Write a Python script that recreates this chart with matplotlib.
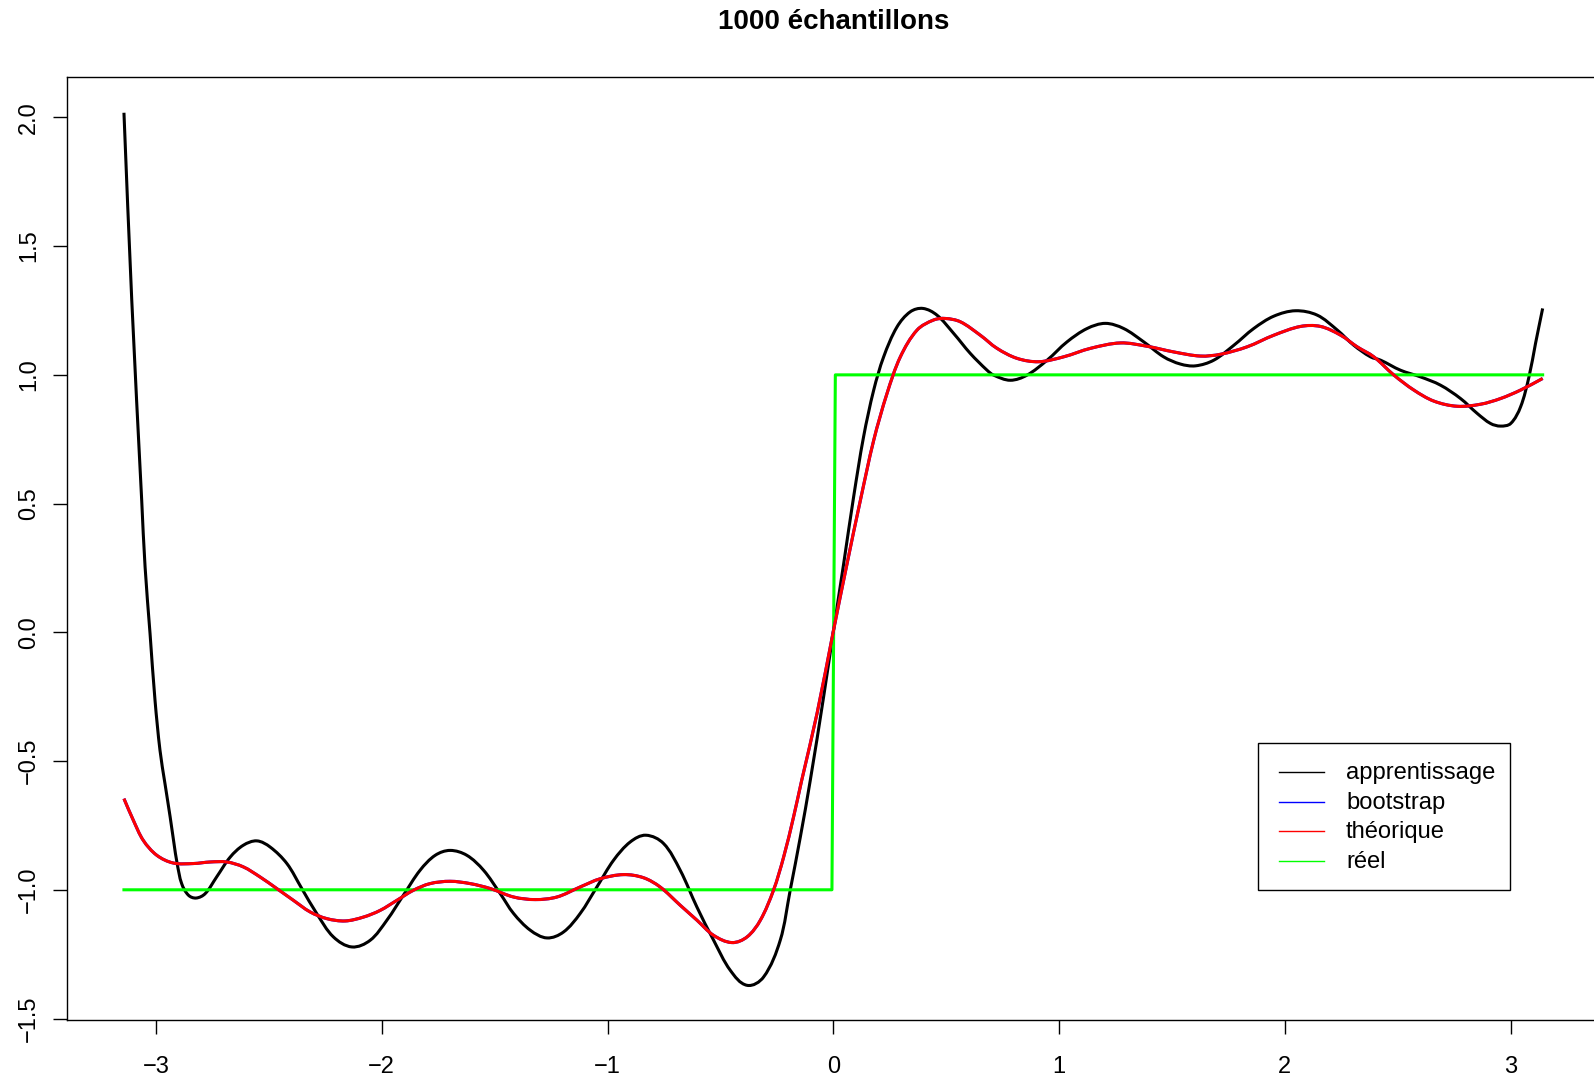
import numpy as np
import matplotlib
matplotlib.use("Agg")
import matplotlib.pyplot as plt
from matplotlib.patches import Rectangle, PathPatch
from matplotlib.lines import Line2D
from matplotlib.path import Path

plt.rcParams['font.family'] = ['Liberation Sans', 'DejaVu Sans']

# ---- data -------------------------------------------------------------
titre = "1000 échantillons"

appr_x = [-3.1416, -3.107, -3.063, -3.048, -3.026, -3.004, -2.982, -2.960, -2.937, -2.920,
          -2.906, -2.886, -2.856, -2.822, -2.782, -2.731, -2.671, -2.613, -2.553, -2.494,
          -2.420, -2.354, -2.288, -2.214, -2.132, -2.051, -1.977, -1.904, -1.830, -1.763,
          -1.697, -1.623, -1.549, -1.475, -1.416, -1.342, -1.268, -1.195, -1.121, -1.047,
          -0.973, -0.899, -0.830, -0.752, -0.678, -0.604, -0.530, -0.456, -0.382, -0.309,
          -0.235, -0.191, -0.146, -0.102, -0.043, 0.001, 0.046, 0.090, 0.134, 0.179,
          0.223, 0.282, 0.341, 0.397, 0.459, 0.533, 0.607, 0.681, 0.710, 0.784,
          0.858, 0.947, 1.035, 1.124, 1.205, 1.286, 1.375, 1.463, 1.537, 1.604,
          1.685, 1.774, 1.862, 1.951, 2.047, 2.143, 2.232, 2.305, 2.379, 2.424,
          2.512, 2.601, 2.689, 2.778, 2.852, 2.911, 2.955, 3.000, 3.044, 3.081,
          3.110, 3.1416]
appr_y = [2.018, 1.290, 0.513, 0.254, -0.005, -0.264, -0.458, -0.587, -0.717, -0.820,
          -0.898, -0.976, -1.021, -1.032, -1.015, -0.950, -0.873, -0.827, -0.810, -0.834,
          -0.898, -0.995, -1.092, -1.183, -1.222, -1.196, -1.118, -1.021, -0.924, -0.866,
          -0.847, -0.866, -0.924, -1.015, -1.092, -1.157, -1.187, -1.164, -1.092, -0.989,
          -0.885, -0.814, -0.788, -0.820, -0.924, -1.067, -1.196, -1.313, -1.371, -1.339,
          -1.196, -1.002, -0.795, -0.575, -0.251, 0.008, 0.267, 0.526, 0.759, 0.941,
          1.070, 1.186, 1.245, 1.258, 1.232, 1.161, 1.083, 1.018, 0.999, 0.979,
          0.999, 1.057, 1.128, 1.180, 1.200, 1.180, 1.128, 1.070, 1.042, 1.035,
          1.057, 1.115, 1.180, 1.228, 1.249, 1.232, 1.174, 1.115, 1.070, 1.057,
          1.018, 0.992, 0.960, 0.908, 0.850, 0.811, 0.801, 0.811, 0.876, 0.992,
          1.122, 1.258]

theo_x = [-3.1416, -3.100, -3.056, -2.996, -2.923, -2.834, -2.760, -2.686, -2.613, -2.539,
          -2.465, -2.391, -2.317, -2.243, -2.162, -2.081, -2.007, -1.933, -1.860, -1.786,
          -1.697, -1.608, -1.520, -1.416, -1.320, -1.224, -1.121, -1.032, -0.929, -0.841,
          -0.767, -0.678, -0.604, -0.530, -0.449, -0.382, -0.323, -0.265, -0.220, -0.176,
          -0.140, -0.072, 0.001, 0.061, 0.120, 0.179, 0.238, 0.297, 0.371, 0.444,
          0.496, 0.563, 0.651, 0.725, 0.814, 0.910, 1.020, 1.139, 1.272, 1.390,
          1.508, 1.626, 1.715, 1.833, 1.951, 2.069, 2.158, 2.247, 2.320, 2.394,
          2.483, 2.571, 2.660, 2.763, 2.867, 2.955, 3.044, 3.1416]
theo_y = [-0.646, -0.730, -0.808, -0.866, -0.896, -0.898, -0.892, -0.892, -0.911, -0.950,
          -0.995, -1.041, -1.086, -1.112, -1.121, -1.106, -1.080, -1.041, -1.002, -0.976,
          -0.967, -0.976, -0.995, -1.028, -1.038, -1.028, -0.989, -0.957, -0.941, -0.953,
          -0.989, -1.060, -1.118, -1.177, -1.205, -1.183, -1.118, -1.002, -0.873, -0.717,
          -0.575, -0.315, 0.008, 0.267, 0.513, 0.746, 0.928, 1.070, 1.174, 1.213,
          1.219, 1.206, 1.154, 1.103, 1.064, 1.051, 1.070, 1.103, 1.124, 1.111,
          1.089, 1.073, 1.080, 1.109, 1.154, 1.188, 1.188, 1.154, 1.109, 1.070,
          0.999, 0.941, 0.898, 0.878, 0.886, 0.908, 0.941, 0.986]

# the bootstrap estimate lies exactly under the theoretical curve
boot_x = list(theo_x)
boot_y = list(theo_y)

reel_x = [-3.1416, -0.006, 0.009, 3.1416]
reel_y = [-1.0, -1.0, 1.0, 1.0]

x_ticks = [-3, -2, -1, 0, 1, 2, 3]
y_ticks = [-1.5, -1.0, -0.5, 0.0, 0.5, 1.0, 1.5, 2.0]

noms = ["apprentissage", "bootstrap", "théorique", "réel"]
couleurs = ["#000000", "#0000FF", "#FF0000", "#00FF00"]


def smooth_path(ax, xs, ys):
    """Smooth cubic path through every point; tangents are taken in screen
    space and handle lengths follow the local segment length."""
    pts = np.column_stack([xs, ys]).astype(float)
    P = ax.transData.transform(pts)
    n = len(P)
    T = np.zeros_like(P)
    for i in range(n):
        a = P[max(i - 1, 0)]
        b = P[min(i + 1, n - 1)]
        d = b - a
        T[i] = d / np.hypot(*d)
    verts = [P[0]]
    codes = [Path.MOVETO]
    for i in range(n - 1):
        L = np.hypot(*(P[i + 1] - P[i])) / 3.0
        verts += [P[i] + T[i] * L, P[i + 1] - T[i + 1] * L, P[i + 1]]
        codes += [Path.CURVE4] * 3
    back = ax.transData.inverted().transform(np.array(verts))
    return Path(back, codes)


def draw_curve(ax, xs, ys, color, z):
    ax.add_patch(PathPatch(smooth_path(ax, xs, ys), facecolor='none', edgecolor=color,
                           lw=2.2, capstyle='butt', joinstyle='round', zorder=z))


# ---- figure -----------------------------------------------------------
W, H = 1594, 1079
fig = plt.figure(figsize=(W / 100, H / 100), dpi=100)


def fx(px):
    return px / W


def fy(py):
    return 1 - py / H


left, right, top, bottom = 67.2, 1599.4, 77.3, 1020.0
ax = fig.add_axes([fx(left), fy(bottom), fx(right - left), (bottom - top) / H])
ax.set_xlim(-3.1416 * 1.08, 3.1416 * 1.08)
ax.set_ylim(-1.5057, 2.1557)

draw_curve(ax, appr_x, appr_y, couleurs[0], 3)
ax.plot(reel_x, reel_y, color=couleurs[3], lw=2.2, zorder=4)
draw_curve(ax, boot_x, boot_y, couleurs[1], 5)
draw_curve(ax, theo_x, theo_y, couleurs[2], 6)

ax.set_xticks(x_ticks)
ax.set_xticklabels(["\u2212%d" % -v if v < 0 else "%d" % v for v in x_ticks])
ax.set_yticks(y_ticks)
ax.set_yticklabels(["\u2212%.1f" % -v if v < 0 else "%.1f" % v for v in y_ticks],
                   rotation=90, va='center')
ax.tick_params(axis='both', direction='out', length=10.3, width=1.0, labelsize=17.0,
               color='black')
ax.tick_params(axis='x', pad=15.3)
ax.tick_params(axis='y', pad=9.3)
for sp in ax.spines.values():
    sp.set_linewidth(1.0)
    sp.set_color('black')

fig.text(fx(833.3), fy(29.3), titre, ha='center', va='baseline',
         fontsize=20.0, fontweight='bold')

# ---- legend box ---------------------------------------------------------
lg_l, lg_r, lg_t, lg_b = 1257.7, 1510.0, 743.3, 890.0
fig.add_artist(Rectangle((fx(lg_l), fy(lg_b)), fx(lg_r - lg_l), (lg_b - lg_t) / H,
                         transform=fig.transFigure, facecolor='white',
                         edgecolor='black', lw=1.0, zorder=10))
rows = [772.3, 801.7, 831.2, 860.7]
for nom, c, ry in zip(noms, couleurs, rows):
    fig.add_artist(Line2D([fx(1279.3), fx(1324.0)], [fy(ry), fy(ry)],
                          transform=fig.transFigure, color=c, lw=1.0, zorder=11))
    fig.text(fx(1346.0), fy(ry + 7.0), nom, ha='left', va='baseline',
             fontsize=17.1, zorder=11)

fig.savefig("out.png", dpi=100)
